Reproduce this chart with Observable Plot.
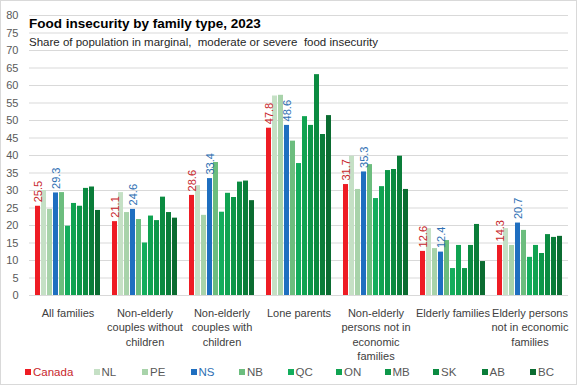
<!DOCTYPE html>
<html>
<head>
<meta charset="utf-8">
<script src="https://cdn.jsdelivr.net/npm/d3@7"></script>
<script src="https://cdn.jsdelivr.net/npm/@observablehq/plot@0.6"></script>
<style>
  html, body { margin: 0; padding: 0; background: #fff; }
  #wrap { position: relative; width: 577px; height: 385px; font-family: "Liberation Sans", Arial, sans-serif; }
  #wrap svg { position: absolute; left: 0; top: 0; }
  #border { position: absolute; left: 0; top: 0; width: 577px; height: 385px; box-sizing: border-box; border: 1px solid #d9d9d9; pointer-events: none; }
  #title { position: absolute; left: 29px; top: 16px; font-size: 13.5px; line-height: 16px; font-weight: bold; color: #000; white-space: pre; }
  #subtitle { position: absolute; left: 29px; top: 35px; font-size: 11.5px; line-height: 14px; color: #262626; white-space: pre; }
  #legend { position: absolute; left: 25px; top: 365px; height: 14px; display: flex; font-size: 11.5px; line-height: 14px; color: #595959; }
  .item { display: flex; align-items: center; width: 48.5px; }
  .item.first { width: 68.5px; }
  .sw { width: 6px; height: 6px; margin-right: 2px; flex: none; }
</style>
</head>
<body>
<div id="wrap">
  <div id="chart"></div>
  <div id="title"></div>
  <div id="subtitle"></div>
  <div id="legend"></div>
  <div id="border"></div>
</div>
<script>
const titleText = "Food insecurity by family type, 2023";
const subtitleText = "Share of population in marginal,  moderate or severe  food insecurity";

const groups = [
  "All families",
  "Non-elderly couples without children",
  "Non-elderly couples with children",
  "Lone parents",
  "Non-elderly persons not in economic families",
  "Elderly families",
  "Elderly persons not in economic families"
];
const groupTickLabels = [
  "All families",
  "Non-elderly\ncouples without\nchildren",
  "Non-elderly\ncouples with\nchildren",
  "Lone parents",
  "Non-elderly\npersons not in\neconomic\nfamilies",
  "Elderly families",
  "Elderly persons\nnot in economic\nfamilies"
];
const regions = ["Canada", "NL", "PE", "NS", "NB", "QC", "ON", "MB", "SK", "AB", "BC"];
const regionColors = ["#ee1c24", "#c5e0c5", "#a8d3aa", "#1f6fc0", "#6cbd7e", "#13ad5c", "#10a351", "#0d9749", "#0b8b41", "#0a7d39", "#0b6c31"];

const allFamilies    = [25.5, 30.0, 24.6, 29.3, 29.4, 19.8, 26.3, 25.5, 30.6, 31.0, 24.3];
const couplesNoKids  = [21.1, 29.4, 23.7, 24.6, 21.7, 15.0, 22.7, 21.4, 28.1, 23.7, 22.1];
const couplesKids    = [28.6, 31.4, 22.9, 33.4, 38.0, 23.8, 29.2, 28.0, 32.4, 32.7, 27.1];
const loneParents    = [47.8, 57.0, 57.2, 48.6, 44.1, 37.7, 51.1, 48.6, 63.1, 46.0, 51.4];
const nonElderlyAlone= [31.7, 39.8, 30.3, 35.3, 37.4, 27.7, 31.1, 35.7, 36.0, 39.8, 30.3];
const elderlyFamilies= [12.6, 19.1, 13.4, 12.4, 15.7,  7.7, 14.3,  7.7, 14.3, 20.3,  9.7];
const elderlyAlone   = [14.3, 19.1, 14.3, 20.7, 18.6, 10.9, 14.3, 12.0, 17.4, 16.6, 16.9];

const yTicks = d3.range(0, 81, 5);
const labeledRegions = ["Canada", "NS"];

const seriesByGroup = [allFamilies, couplesNoKids, couplesKids, loneParents, nonElderlyAlone, elderlyFamilies, elderlyAlone];
const data = groups.flatMap((g, gi) => regions.map((r, ri) => ({group: g, region: r, value: seriesByGroup[gi][ri]})));
const labeled = data.filter(d => labeledRegions.includes(d.region));

const labelColor = {Canada: "#c8262b", NS: "#2e6fb3"};

const chart = Plot.plot({
  width: 577,
  height: 385,
  marginLeft: 26,
  marginRight: 5.5,
  marginTop: 15,
  marginBottom: 90,
  style: {fontFamily: "'Liberation Sans', Arial, sans-serif", background: "transparent"},
  fx: {domain: groups, padding: 0},
  x: {domain: regions, paddingInner: 0.19, paddingOuter: 0.875, axis: null},
  y: {domain: [0, 80]},
  color: {domain: regions, range: regionColors},
  marks: [
    Plot.gridY(yTicks, {stroke: "#d9d9d9", strokeOpacity: 1}),
    Plot.axisY(yTicks, {tickSize: 0, tickPadding: 11, label: null, fontSize: 11, fill: "#595959"}),
    Plot.axisFx({anchor: "bottom", tickSize: 0, tickPadding: 11, label: null, fontSize: 11, lineHeight: 1.32, fill: "#404040",
      tickFormat: d => groupTickLabels[groups.indexOf(d)]}),
    Plot.barY(data, {fx: "group", x: "region", y: "value", fill: "region"}),
    Plot.text(labeled, {fx: "group", x: "region", y: "value", text: d => d3.format(".1f")(d.value),
      rotate: -90, textAnchor: "start", lineAnchor: "middle", dy: -4, fontSize: 11,
      fill: d => labelColor[d.region]})
  ]
});
document.getElementById("chart").appendChild(chart);

document.getElementById("title").textContent = titleText;
document.getElementById("subtitle").textContent = subtitleText;
const legend = document.getElementById("legend");
regions.forEach((r, i) => {
  const item = document.createElement("div");
  item.className = "item" + (i === 0 ? " first" : "");
  const sw = document.createElement("span");
  sw.className = "sw";
  sw.style.background = regionColors[i];
  const t = document.createElement("span");
  t.textContent = r;
  if (labelColor[r]) t.style.color = labelColor[r];
  item.appendChild(sw);
  item.appendChild(t);
  legend.appendChild(item);
});
</script>
</body>
</html>
